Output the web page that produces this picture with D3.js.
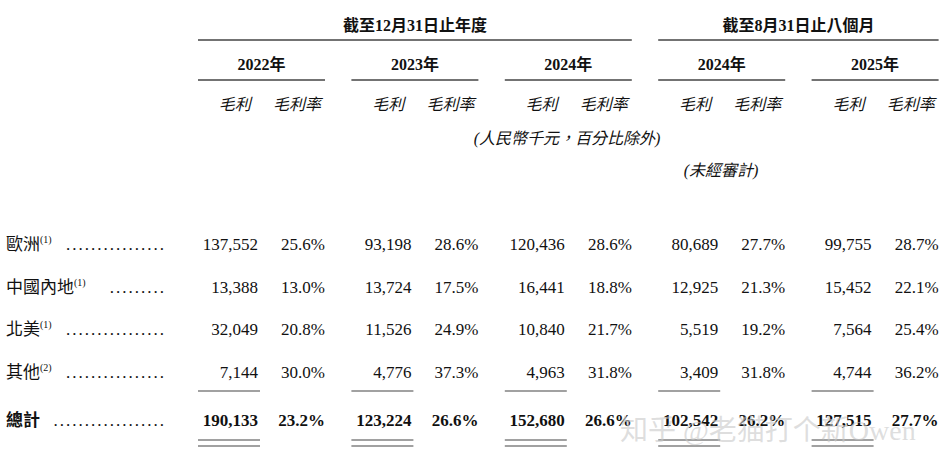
<!DOCTYPE html><html><head><meta charset="utf-8"><script src="https://cdn.jsdelivr.net/npm/d3@7"></script>
<style>body{margin:0;background:#fff}text{font-family:"Liberation Serif","Noto Sans CJK TC",serif;fill:#111}</style></head><body><svg id="c" width="952" height="465"></svg>
<script>
const categories=["歐洲","中國內地","北美","其他","總計"];
const notes=["(1)","(1)","(1)","(2)",""];
const periods=["2022年","2023年","2024年","2024年","2025年"];
const profit=[[137552,13388,32049,7144,190133],[93198,13724,11526,4776,123224],[120436,16441,10840,4963,152680],[80689,12925,5519,3409,102542],[99755,15452,7564,4744,127515]];
const margin=[[25.6,13.0,20.8,30.0,23.2],[28.6,17.5,24.9,37.3,26.6],[28.6,18.8,21.7,31.8,26.6],[27.7,21.3,19.2,31.8,26.2],[28.7,22.1,25.4,36.2,27.7]];
const svg=d3.select("#c");
const x=d3.scaleLinear().domain([0,5]).range([198,965]);
const W=127;
const yr=d3.scaleLinear().domain([0,3]).range([244,372]);
const yy=c=>c==="總計"?420:yr(categories.indexOf(c));
const fmt=d3.format(",");
function line(x1,x2,yv,w){svg.append("line").attr("x1",x1).attr("x2",x2).attr("y1",yv).attr("y2",yv).attr("stroke","#444").attr("stroke-width",w||1.6);}
const groups=[{t:"截至12月31日止年度",a:0,b:3},{t:"截至8月31日止八個月",a:3,b:5}];
groups.forEach(g=>{const x1=x(g.a),x2=x(g.b-1)+W;svg.append("text").attr("x",(x1+x2)/2).attr("y",31).attr("text-anchor","middle").attr("font-size",16).attr("font-weight","bold").text(g.t);line(x1,x2,40);});
periods.forEach((p,i)=>{const x1=x(i);svg.append("text").attr("x",x1+W/2).attr("y",70).attr("text-anchor","middle").attr("font-size",16).attr("font-weight","bold").text(p);line(x1,x1+W,80);
svg.append("text").attr("x",x1+W*0.29).attr("y",110).attr("text-anchor","middle").attr("font-size",16).attr("font-style","italic").text("毛利");
svg.append("text").attr("x",x1+W*0.78).attr("y",110).attr("text-anchor","middle").attr("font-size",16).attr("font-style","italic").text("毛利率");
profit[i].forEach((v,j)=>{const c=categories[j],bold=j==4;
svg.append("text").attr("x",x1+60).attr("y",yy(c)+6).attr("text-anchor","end").attr("font-size",17).attr("font-weight",bold?"bold":"normal").text(fmt(v));
svg.append("text").attr("x",x1+W).attr("y",yy(c)+6).attr("text-anchor","end").attr("font-size",17).attr("font-weight",bold?"bold":"normal").text(margin[i][j].toFixed(1)+"%");});
line(x1,x1+62,391,1.2);line(x1,x1+62,440,1.2);line(x1,x1+62,446,1.2);});
svg.append("text").attr("x",567).attr("y",144).attr("text-anchor","middle").attr("font-size",16).attr("font-style","italic").text("(人民幣千元，百分比除外)");
svg.append("text").attr("x",721).attr("y",176).attr("text-anchor","middle").attr("font-size",16).attr("font-style","italic").text("(未經審計)");
const dots=[16,9,16,16,18];
categories.forEach((c,j)=>{const t=svg.append("text").attr("x",6).attr("y",yy(c)+6).attr("font-size",17).attr("font-weight",j==4?"bold":"normal");
t.append("tspan").text(c);if(notes[j])t.append("tspan").attr("font-size",10).attr("dy",-7).text(notes[j]);
svg.append("text").attr("y",yy(c)+6).attr("x",166).attr("text-anchor","end").attr("font-size",17).attr("letter-spacing",2).text(".".repeat(dots[j]));});
svg.append("text").attr("x",620).attr("y",440).attr("font-size",28).attr("font-family","Noto Sans CJK SC").style("fill","rgba(200,200,200,0.6)").text("知乎 @老猫打个新Owen");
</script></body></html>
